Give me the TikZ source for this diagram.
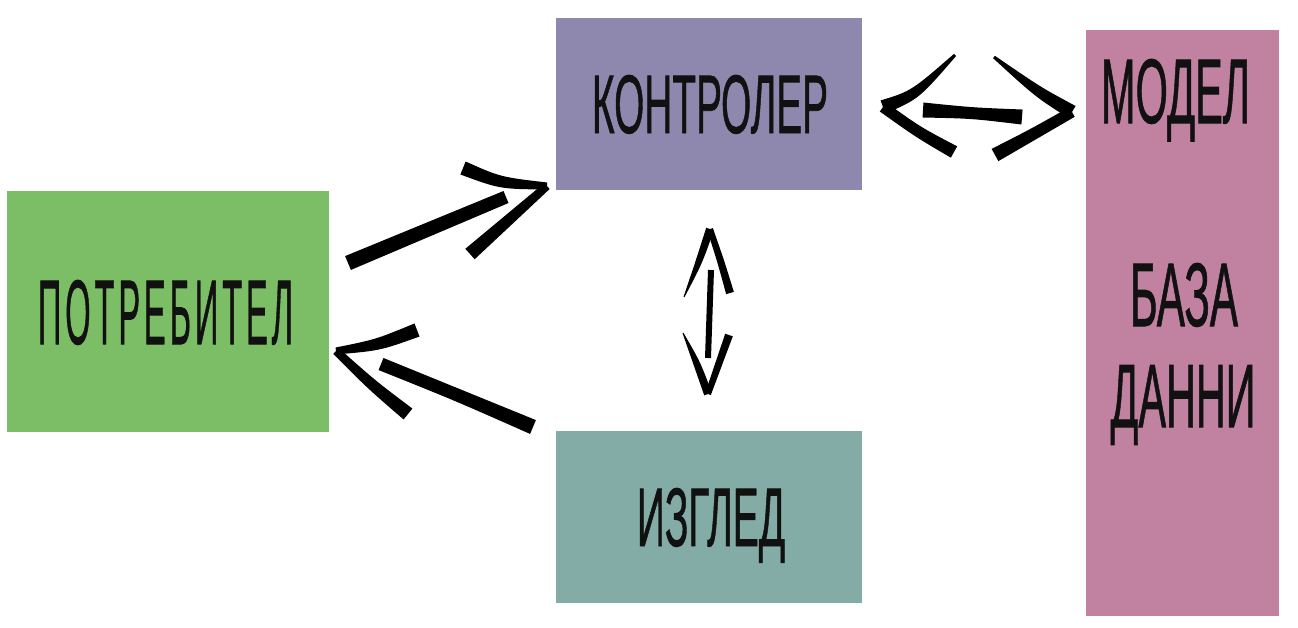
\documentclass[tikz,border=0pt]{standalone}
\usepackage{fontspec}
\setmainfont{Liberation Sans}[FakeBold=1.1]
\usetikzlibrary{calc}
\newdimen\pxu \pxu=0.02cm
\definecolor{cuser}{RGB}{124,190,102}
\definecolor{cctrl}{RGB}{142,136,175}
\definecolor{cview}{RGB}{130,172,165}
\definecolor{cmodel}{RGB}{193,129,160}
\definecolor{ink}{RGB}{17,17,17}
\newcommand\fittext[3]{\raisebox{0pt}[\height][0pt]{\resizebox{#1\pxu}{#2\pxu}{#3}}}
% tapered, slightly curved brush stroke: start, control, end, half widths (px) at start, control, end
\newcommand\brushstroke[6]{\fill[black] ($#1!{#4*0.02cm}!90:#2$) .. controls ($#2!{#5*0.02cm}!90:#3$) .. ($#3!{#6*0.02cm}!-90:#2$) -- ($#3!{#6*0.02cm}!90:#2$) .. controls ($#2!{#5*0.02cm}!-90:#3$) .. ($#1!{#4*0.02cm}!-90:#2$) -- cycle;}
\begin{document}
\begin{tikzpicture}[x=0.02cm,y=-0.02cm,
  box/.style={rectangle, inner sep=0pt, outer sep=0pt},
  lbl/.style={inner sep=0pt, outer sep=0pt, text=ink}]
\useasboundingbox (0,0) rectangle (1298,627);
% boxes
\node[box, fill=cuser, minimum width=6.44cm, minimum height=4.82cm] (user) at (168,311.5) {};
\node[box, fill=cctrl, minimum width=6.12cm, minimum height=3.44cm] (ctrl) at (709,104) {};
\node[box, fill=cview, minimum width=6.12cm, minimum height=3.44cm] (view) at (709,517) {};
\node[box, fill=cmodel, minimum width=3.86cm, minimum height=11.72cm] (model) at (1182.5,323) {};
% labels
\node[lbl] (userlbl) at (165.5,312) {\fittext{255}{64}{\addfontfeature{LetterSpace=12}ПОТРЕБИТЕЛ}};
\node[lbl] (ctrllbl) at (710,104) {\fittext{236}{58}{КОНТРОЛЕР}};
\node[lbl] (viewlbl) at (711,517) {\fittext{148}{58}{ИЗГЛЕД}};
\node[lbl] (modellbl) at (1175.5,91) {\fittext{149}{64}{МОДЕЛ}};
\node[lbl] (dblbl1) at (1184,294.5) {\fittext{108}{63}{БАЗА}};
\node[lbl] (dblbl2) at (1183,396) {\fittext{145}{62}{ДАННИ}};
% arrow end points
\coordinate (a1s) at (348,263); \coordinate (a1t) at (547,186);
\coordinate (a2s) at (533,427); \coordinate (a2t) at (336,351);
\coordinate (a3l) at (883,107); \coordinate (a3r) at (1072,112);
\coordinate (a4t) at (710,229); \coordinate (a4b) at (708,394);
% user -> controller
\brushstroke{(a1s)}{(427,230)}{(506,197)}{7.5}{6.5}{6.5}
\brushstroke{(463,168)}{(500,183)}{(a1t)}{7}{6}{3.5}
\brushstroke{(a1t)}{(508,220)}{(470,254)}{4}{5.5}{7}
% view -> user
\brushstroke{(a2s)}{(457,395)}{(381,364)}{7.5}{6}{6.5}
\brushstroke{(a2t)}{(378,345)}{(417,330)}{3.5}{6}{7}
\brushstroke{(a2t)}{(372,385)}{(408,414)}{4}{5.5}{7}
% controller <-> model
\brushstroke{(923,110)}{(972,113)}{(1022,117)}{7.5}{5.5}{7.5}
\brushstroke{(a3l)}{(915,95)}{(955,55)}{7}{5.5}{1.5}
\brushstroke{(a3l)}{(918,132)}{(954,152)}{5.5}{5.5}{6.5}
\brushstroke{(994,57)}{(1038,92)}{(a3r)}{1.5}{5.5}{7}
\brushstroke{(a3r)}{(1033,134)}{(995,155)}{5.5}{5.5}{7}
% controller <-> view
\brushstroke{(711,270)}{(709.5,314)}{(708,358)}{3}{2.5}{3}
\brushstroke{(a4t)}{(699,262)}{(684,297)}{4}{3.5}{0.5}
\brushstroke{(a4t)}{(721,262)}{(730,293)}{3}{3.5}{4}
\brushstroke{(683,333)}{(697,363)}{(a4b)}{0.5}{3.5}{4}
\brushstroke{(729,335)}{(719,365)}{(a4b)}{4}{3.5}{3}
\end{tikzpicture}
\end{document}
